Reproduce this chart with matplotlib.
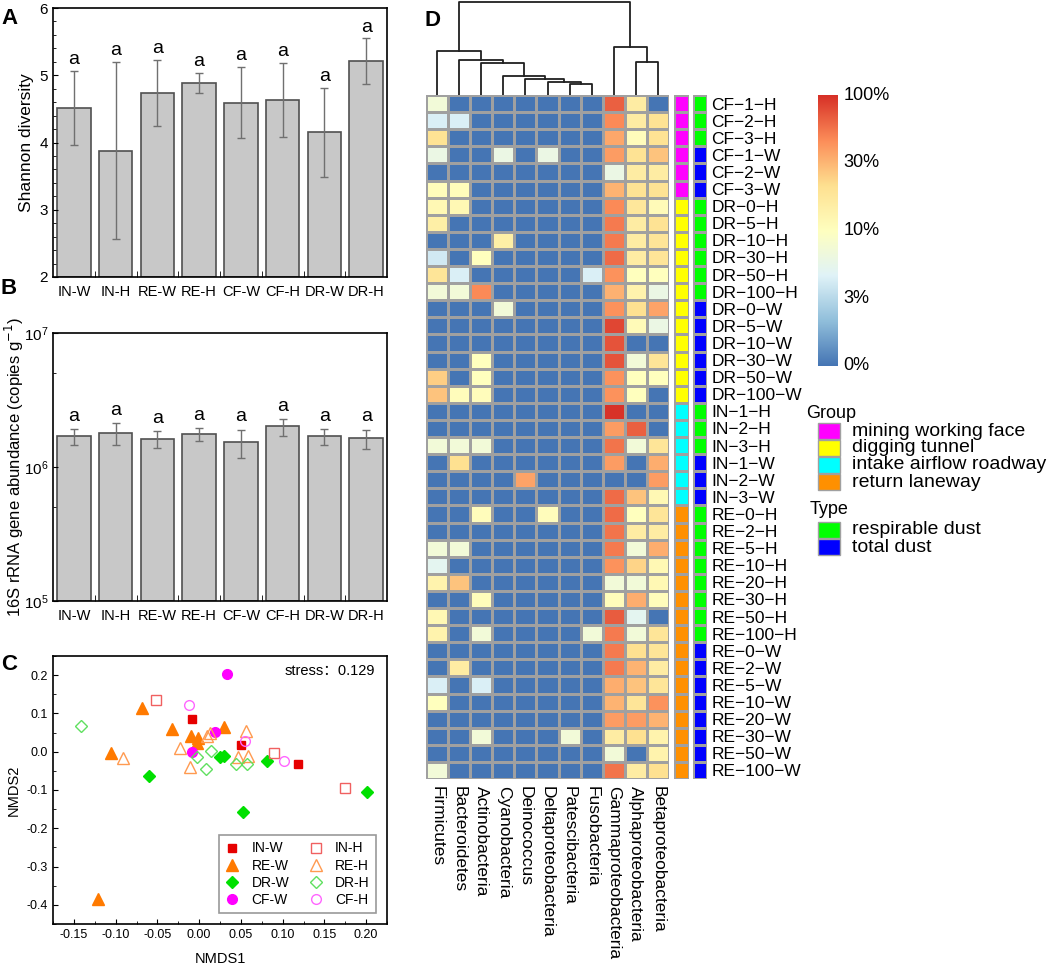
import numpy as np
import matplotlib
matplotlib.use('Agg')
import matplotlib.pyplot as plt
from matplotlib.colors import LinearSegmentedColormap, ListedColormap
from matplotlib.patches import Rectangle
from matplotlib.ticker import MultipleLocator, FixedLocator, LogLocator, NullFormatter

plt.rcParams['font.family'] = ['Liberation Sans', 'DejaVu Sans', 'Noto Sans CJK SC']
plt.rcParams['axes.linewidth'] = 1.2

# ---- data: panels A and B ----
groups = ['IN-W', 'IN-H', 'RE-W', 'RE-H', 'CF-W', 'CF-H', 'DR-W', 'DR-H']
shannon = [4.52, 3.88, 4.73, 4.89, 4.59, 4.63, 4.15, 5.21]
shannon_lo = [3.96, 2.57, 4.24, 4.74, 4.06, 4.08, 3.49, 4.87]
shannon_hi = [5.07, 5.20, 5.23, 5.04, 5.13, 5.18, 4.81, 5.55]
abund = [1.69e6, 1.80e6, 1.62e6, 1.75e6, 1.53e6, 2.01e6, 1.70e6, 1.64e6]
abund_lo = [1.47e6, 1.45e6, 1.39e6, 1.57e6, 1.16e6, 1.70e6, 1.47e6, 1.37e6]
abund_hi = [1.93e6, 2.13e6, 1.86e6, 1.94e6, 1.90e6, 2.29e6, 1.93e6, 1.90e6]
sig_letters = ['a'] * 8

# ---- data: panel C (NMDS) ----
nmds_x = {
    'IN-W': [-0.009, 0.050, 0.118],
    'IN-H': [-0.052, 0.090, 0.175],
    'RE-W': [-0.068, -0.033, -0.010, -0.001, -0.002, 0.030, -0.106, -0.121],
    'RE-H': [-0.023, -0.011, 0.010, 0.013, 0.056, 0.047, 0.059, -0.091],
    'DR-W': [-0.060, 0.025, 0.030, 0.081, 0.053, 0.201],
    'DR-H': [-0.142, -0.003, 0.014, 0.008, 0.044, 0.057],
    'CF-W': [0.033, 0.019, -0.009],
    'CF-H': [-0.012, 0.055, 0.102],
}
nmds_y = {
    'IN-W': [0.085, 0.017, -0.032],
    'IN-H': [0.135, -0.004, -0.094],
    'RE-W': [0.115, 0.059, 0.041, 0.036, 0.024, 0.065, -0.004, -0.385],
    'RE-H': [0.009, -0.041, 0.041, 0.048, 0.055, -0.013, -0.010, -0.017],
    'DR-W': [-0.064, -0.015, -0.010, -0.024, -0.157, -0.105],
    'DR-H': [0.068, -0.014, 0.003, -0.044, -0.032, -0.033],
    'CF-W': [0.202, 0.052, -0.001],
    'CF-H': [0.123, 0.027, -0.024],
}
stress = 0.129

# ---- data: panel D (heatmap, relative abundance %) ----
phyla = ['Firmicutes', 'Bacteroidetes', 'Actinobacteria', 'Cyanobacteria',
         'Deinococcus', 'Deltaproteobacteria', 'Patescibacteria', 'Fusobacteria',
         'Gammaproteobacteria', 'Alphaproteobacteria', 'Betaproteobacteria']
samples = ['CF−1−H', 'CF−2−H', 'CF−3−H', 'CF−1−W', 'CF−2−W', 'CF−3−W',
           'DR−0−H', 'DR−5−H', 'DR−10−H', 'DR−30−H', 'DR−50−H', 'DR−100−H',
           'DR−0−W', 'DR−5−W', 'DR−10−W', 'DR−30−W', 'DR−50−W', 'DR−100−W',
           'IN−1−H', 'IN−2−H', 'IN−3−H', 'IN−1−W', 'IN−2−W', 'IN−3−W',
           'RE−0−H', 'RE−2−H', 'RE−5−H', 'RE−10−H', 'RE−20−H', 'RE−30−H',
           'RE−50−H', 'RE−100−H', 'RE−0−W', 'RE−2−W', 'RE−5−W', 'RE−10−W',
           'RE−20−W', 'RE−30−W', 'RE−50−W', 'RE−100−W']
abundance = [
    [8, 0, 0, 0, 0, 0, 0, 0, 75, 18, 0],
    [5, 5, 0, 0, 0, 0, 0, 0, 55, 18, 22],
    [22, 0, 0, 0, 0, 0, 0, 0, 38, 11, 22],
    [7, 0, 0, 7, 0, 7, 0, 0, 45, 22, 28],
    [0, 0, 0, 0, 0, 0, 0, 0, 7, 18, 18],
    [11, 11, 0, 0, 0, 0, 0, 0, 32, 22, 22],
    [13, 13, 0, 0, 0, 0, 0, 0, 55, 20, 12],
    [17, 0, 0, 0, 0, 0, 0, 0, 62, 18, 22],
    [0, 0, 0, 17, 0, 0, 0, 0, 62, 18, 21],
    [4.5, 0, 10, 0, 0, 0, 0, 0, 70, 18, 21],
    [21, 5, 0, 0, 0, 0, 0, 5, 50, 10, 10],
    [8, 8, 55, 0, 0, 0, 0, 0, 33, 15, 7],
    [0, 0, 0, 8, 0, 0, 0, 0, 50, 23, 40],
    [0, 0, 0, 0, 0, 0, 0, 0, 88, 12, 7],
    [0, 0, 0, 0, 0, 0, 0, 0, 82, 0, 0],
    [0, 0, 10, 0, 0, 0, 0, 0, 82, 8, 21],
    [26, 0, 10, 0, 0, 0, 0, 0, 50, 10, 10],
    [28, 11, 11, 0, 0, 0, 0, 0, 50, 10, 0],
    [0, 0, 0, 0, 0, 0, 0, 0, 98, 0, 0],
    [0, 0, 0, 0, 0, 0, 0, 0, 45, 75, 0],
    [8, 8, 8, 0, 0, 0, 0, 0, 66, 8, 21],
    [0, 23, 0, 0, 0, 0, 0, 0, 45, 0, 35],
    [0, 0, 0, 0, 40, 0, 0, 0, 0, 0, 45],
    [0, 0, 0, 0, 0, 0, 0, 0, 70, 28, 13],
    [0, 0, 11, 0, 0, 11, 0, 0, 70, 10, 21],
    [0, 0, 0, 0, 0, 0, 0, 0, 66, 18, 18],
    [8, 8, 0, 0, 0, 0, 0, 0, 62, 8, 35],
    [6, 0, 0, 0, 0, 0, 0, 0, 50, 25, 13],
    [15, 28, 0, 0, 0, 0, 0, 0, 8, 8, 13],
    [0, 0, 11, 0, 0, 0, 0, 0, 11, 35, 11],
    [13, 0, 0, 0, 0, 0, 0, 0, 78, 6, 0],
    [15, 0, 8, 0, 0, 0, 0, 8, 62, 8, 21],
    [0, 0, 0, 0, 0, 0, 0, 0, 62, 23, 21],
    [0, 18, 0, 0, 0, 0, 0, 0, 62, 32, 18],
    [5, 0, 5, 0, 0, 0, 0, 0, 35, 28, 21],
    [10, 0, 0, 0, 0, 0, 0, 0, 32, 21, 50],
    [0, 0, 0, 0, 0, 0, 0, 0, 45, 45, 32],
    [0, 0, 8, 0, 0, 0, 8, 0, 18, 23, 15],
    [0, 0, 0, 0, 0, 0, 0, 0, 8, 0, 15],
    [8, 0, 0, 0, 0, 0, 0, 0, 66, 18, 23],
]
# column dendrogram: (child a, child b, merge height)
col_linkage = [(6, 7, 11), (5, 11, 13), (4, 12, 16), (3, 13, 19), (2, 14, 32),
               (1, 15, 35), (0, 16, 44), (9, 10, 33), (8, 18, 48), (17, 19, 93)]
group_names = ['mining working face', 'digging tunnel', 'intake airflow roadway', 'return laneway']
group_prefix = ['CF', 'DR', 'IN', 'RE']
group_colors = ['#ff00ff', '#ffff00', '#00ffff', '#ff9000']
type_names = ['respirable dust', 'total dust']
type_colors = ['#00ff00', '#0000ff']
scale_breaks = [0, 3, 10, 30, 100]
scale_labels = ['0%', '3%', '10%', '30%', '100%']

W, H = 1052, 968
fig = plt.figure(figsize=(W / 100, H / 100), dpi=100)


def px_axes(x0, y0, x1, y1):
    return fig.add_axes([x0 / W, 1 - y1 / H, (x1 - x0) / W, (y1 - y0) / H])


bar_face = '#c8c8c8'
bar_edge = '#505050'
err_col = '#707070'
xpos = np.arange(len(groups))

# ---- Panel A ----
axA = px_axes(53, 8, 387, 277)
sh = np.array(shannon)
axA.bar(xpos, sh - 2, bottom=2, width=0.8, color=bar_face, edgecolor=bar_edge, linewidth=1.2)
axA.errorbar(xpos, sh, yerr=[sh - np.array(shannon_lo), np.array(shannon_hi) - sh],
             fmt='none', ecolor=err_col, elinewidth=1, capsize=3)
for i, t in enumerate(sig_letters):
    axA.text(xpos[i], shannon_hi[i] + 0.04, t, ha='center', va='bottom', fontsize=14)
axA.set_ylim(2, 6)
axA.set_xlim(-0.5, 7.5)
axA.yaxis.set_major_locator(MultipleLocator(1))
axA.yaxis.set_minor_locator(MultipleLocator(0.2))
axA.set_xticks(xpos)
axA.set_xticklabels(groups, fontsize=10.5)
axA.xaxis.set_minor_locator(FixedLocator(xpos[:-1] + 0.5))
axA.tick_params(axis='x', which='major', length=0, pad=6)
axA.tick_params(axis='x', which='minor', direction='in', length=4)
axA.tick_params(axis='y', which='both', direction='in', labelsize=11)
axA.tick_params(axis='y', which='minor', length=2.5)
axA.set_ylabel('Shannon diversity', fontsize=12.5, labelpad=4)

# ---- Panel B ----
axB = px_axes(53, 333, 387, 601)
ab = np.array(abund)
axB.bar(xpos, ab - 1e5, bottom=1e5, width=0.8, color=bar_face, edgecolor=bar_edge, linewidth=1.2)
axB.errorbar(xpos, ab, yerr=[ab - np.array(abund_lo), np.array(abund_hi) - ab],
             fmt='none', ecolor=err_col, elinewidth=1, capsize=3)
axB.set_yscale('log')
axB.set_ylim(1e5, 1e7)
for i, t in enumerate(sig_letters):
    axB.annotate(t, (xpos[i], abund_hi[i]), xytext=(0, 3), textcoords='offset points',
                 ha='center', va='bottom', fontsize=14)
axB.set_xlim(-0.5, 7.5)
axB.set_xticks(xpos)
axB.set_xticklabels(groups, fontsize=10.5)
axB.xaxis.set_minor_locator(FixedLocator(xpos[:-1] + 0.5))
axB.tick_params(axis='x', which='major', length=0, pad=6)
axB.tick_params(axis='x', which='minor', direction='in', length=4)
axB.yaxis.set_minor_locator(LogLocator(base=10, subs=[5]))
axB.yaxis.set_minor_formatter(NullFormatter())
axB.tick_params(axis='y', which='both', direction='in', labelsize=11)
axB.set_ylabel('16S rRNA gene abundance (copies g$^{-1}$)', fontsize=12)
axB.yaxis.set_label_coords(-0.082, 0.5)

# ---- Panel C ----
axC = px_axes(53, 656, 387, 924)
styles = {
    'IN-W': dict(marker='s', color='#e60000', filled=True, ms=6),
    'IN-H': dict(marker='s', color='#f06060', filled=False, ms=6.5),
    'RE-W': dict(marker='^', color='#ff7a00', filled=True, ms=8),
    'RE-H': dict(marker='^', color='#ff9a50', filled=False, ms=8),
    'DR-W': dict(marker='D', color='#00e000', filled=True, ms=6),
    'DR-H': dict(marker='D', color='#60e060', filled=False, ms=6.5),
    'CF-W': dict(marker='o', color='#ff00ff', filled=True, ms=7),
    'CF-H': dict(marker='o', color='#ff66ff', filled=False, ms=7),
}
order = ['IN-W', 'RE-W', 'DR-W', 'CF-W', 'IN-H', 'RE-H', 'DR-H', 'CF-H']
for g in order:
    s = styles[g]
    axC.plot(nmds_x[g], nmds_y[g], linestyle='none', marker=s['marker'], ms=s['ms'],
             markerfacecolor=s['color'] if s['filled'] else 'none',
             markeredgecolor=s['color'], markeredgewidth=1.0, label=g)
axC.set_xlim(-0.175, 0.225)
axC.set_ylim(-0.45, 0.25)
axC.xaxis.set_major_locator(MultipleLocator(0.05))
axC.xaxis.set_minor_locator(MultipleLocator(0.025))
axC.yaxis.set_major_locator(MultipleLocator(0.1))
axC.yaxis.set_minor_locator(MultipleLocator(0.05))
axC.xaxis.set_major_formatter(plt.FuncFormatter(lambda v, p: f'{v:.2f}'))
axC.yaxis.set_major_formatter(plt.FuncFormatter(lambda v, p: f'{v:.1f}'))
axC.tick_params(which='both', direction='in', labelsize=9)
axC.tick_params(which='minor', length=2.5)
axC.set_xlabel('NMDS1', fontsize=10.5, labelpad=8)
axC.set_ylabel('NMDS2', fontsize=10.5, labelpad=4)
axC.text(0.965, 0.97, f'stress：{stress}', transform=axC.transAxes, ha='right', va='top',
         fontsize=10.5, family=['Liberation Sans', 'Noto Sans CJK SC'])
leg = axC.legend(ncol=2, loc='lower right', fontsize=10, frameon=True, fancybox=False,
                 edgecolor='#808080', handlelength=1.0, handletextpad=0.9, columnspacing=1.4,
                 borderaxespad=0.8, labelspacing=0.22, borderpad=0.45)
leg.get_frame().set_linewidth(1.2)

# ---- Panel D ----
cmap = LinearSegmentedColormap.from_list(
    'rdylbu', ['#4575B4', '#91BFDB', '#E0F3F8', '#FFFFBF', '#FEE090', '#FC8D59', '#D73027'])
pos = np.interp(np.array(abundance, dtype=float), scale_breaks, np.linspace(0, 1, len(scale_breaks)))
nrow, ncol = pos.shape
grid_col = '#a0a0a0'

axH = px_axes(426, 95, 669, 779)
axH.pcolormesh(pos, cmap=cmap, vmin=0, vmax=1, edgecolors=grid_col, linewidth=1)
axH.set_xlim(0, ncol)
axH.set_ylim(nrow, 0)
axH.set_xticks(np.arange(ncol) + 0.5)
axH.set_xticklabels(phyla, rotation=270, fontsize=12.5, va='top', ha='center')
axH.set_yticks([])
axH.tick_params(axis='x', length=0, pad=5)
for sp in axH.spines.values():
    sp.set_visible(False)

grp_idx = np.array([group_prefix.index(s[:2]) for s in samples])
typ_idx = np.array([0 if s.endswith('H') else 1 for s in samples])

axG = px_axes(674, 95, 689, 779)
axG.pcolormesh(grp_idx[:, None], cmap=ListedColormap(group_colors), vmin=-0.5, vmax=3.5,
               edgecolors=grid_col, linewidth=1)
axT = px_axes(693, 95, 707, 779)
axT.pcolormesh(typ_idx[:, None], cmap=ListedColormap(type_colors), vmin=-0.5, vmax=1.5,
               edgecolors=grid_col, linewidth=1)
for a in (axG, axT):
    a.set_ylim(nrow, 0)
    a.set_xlim(0, 1)
    a.set_xticks([])
    for sp in a.spines.values():
        sp.set_visible(False)
axG.set_yticks([])
axT.yaxis.tick_right()
axT.set_yticks(np.arange(nrow) + 0.5)
axT.set_yticklabels(samples, fontsize=12.5)
axT.tick_params(axis='y', length=0, pad=3)

# dendrogram
axD = px_axes(426, 1, 669, 95)
xs = {i: i + 0.5 for i in range(ncol)}
hs = {i: 0 for i in range(ncol)}
for k, (a, b, h) in enumerate(col_linkage):
    node = ncol + k
    axD.plot([xs[a], xs[a], xs[b], xs[b]], [hs[a], h, h, hs[b]], color='#202020', lw=1.3)
    xs[node] = (xs[a] + xs[b]) / 2
    hs[node] = h
axD.set_xlim(0, ncol)
axD.set_ylim(0, 94)
axD.axis('off')

# colour bar
axCb = px_axes(818, 95, 837, 366)
axCb.imshow(np.linspace(0, 1, 256)[:, None], cmap=cmap, aspect='auto', origin='lower',
            extent=(0, 1, 0, 1))
axCb.axis('off')
for v, lab in zip(np.linspace(0, 1, len(scale_labels)), scale_labels):
    axCb.text(1.35, v, lab, transform=axCb.transAxes, ha='left', va='center', fontsize=13)

# annotation legends
fig.text(806 / W, 1 - 413 / H, 'Group', fontsize=13, ha='left', va='center')
for i, (nm, c) in enumerate(zip(group_names, group_colors)):
    yc = 431 + i * 17
    fig.add_artist(Rectangle((818 / W, 1 - (yc + 8) / H), 22 / W, 16 / H, transform=fig.transFigure,
                             facecolor=c, edgecolor=grid_col, linewidth=1))
    fig.text(852 / W, 1 - yc / H, nm, fontsize=14, ha='left', va='center')
fig.text(810 / W, 1 - 510 / H, 'Type', fontsize=13, ha='left', va='center')
for i, (nm, c) in enumerate(zip(type_names, type_colors)):
    yc = 530 + i * 17
    fig.add_artist(Rectangle((818 / W, 1 - (yc + 8) / H), 22 / W, 16 / H, transform=fig.transFigure,
                             facecolor=c, edgecolor=grid_col, linewidth=1))
    fig.text(852 / W, 1 - yc / H, nm, fontsize=14, ha='left', va='center')

# panel letters
for lab, x, y in [('A', 9, 18), ('B', 9, 289), ('C', 9, 664), ('D', 432, 20)]:
    fig.text(x / W, 1 - y / H, lab, fontsize=16, fontweight='bold', ha='center', va='center')

fig.savefig('out.png', dpi=100)
